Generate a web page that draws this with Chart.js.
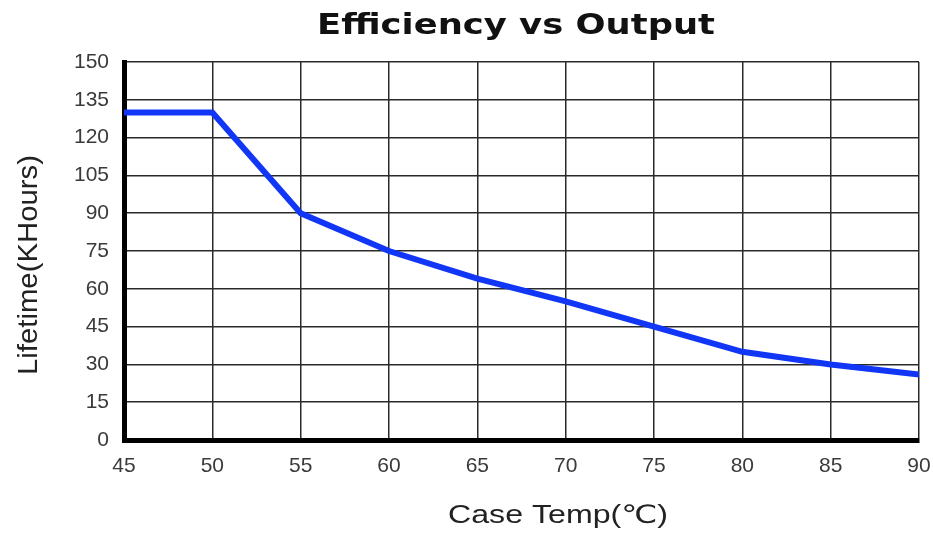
<!DOCTYPE html>
<html>
<head>
<meta charset="utf-8">
<script src="https://cdn.jsdelivr.net/npm/chart.js@4"></script>
<style>
  html, body { margin: 0; padding: 0; background: #fff; }
  #wrap { width: 933px; height: 535px; }
</style>
</head>
<body>
<div id="wrap"><canvas id="lifeChart" width="933" height="535"></canvas></div>
<script>
const caseTemps = [45, 50, 55, 60, 65, 70, 75, 80, 85, 90];
const lifetimeKHours = [130, 130, 90, 75, 64, 55, 45, 35, 30, 26];
const yTicks = [0, 15, 30, 45, 60, 75, 90, 105, 120, 135, 150];
const xTicks = [45, 50, 55, 60, 65, 70, 75, 80, 85, 90];

const chartTitle = "Efficiency vs Output";
const xTitle = "Case Temp(\u2103)";
const yTitle = "Lifetime(KHours)";

const lineColor = "#1236f5";
const gridColor = "#2a2a2a";
const tickColor = "#3a3a3a";

// draws text squeezed/stretched to a given width
function fitText(ctx, text, font, width) {
  ctx.font = font;
  const w = ctx.measureText(text).width;
  const sx = width / w;
  ctx.save();
  ctx.scale(sx, 1);
  ctx.fillText(text, -w / 2, 0);
  ctx.restore();
}

const titlesPlugin = {
  id: "titles",
  afterDraw(chart) {
    const ctx = chart.ctx;
    ctx.save();
    ctx.fillStyle = "#111";
    ctx.textBaseline = "alphabetic";
    ctx.textAlign = "left";

    ctx.save();
    ctx.translate(516, 34);
    fitText(ctx, chartTitle, "bold 29px 'DejaVu Sans', Arial, sans-serif", 398);
    ctx.restore();

    ctx.fillStyle = "#222";
    ctx.save();
    ctx.translate(558, 523);
    fitText(ctx, xTitle, "25px 'Liberation Sans', 'DejaVu Sans', Arial, sans-serif", 220);
    ctx.restore();

    ctx.save();
    ctx.translate(37, 265);
    ctx.rotate(-Math.PI / 2);
    fitText(ctx, yTitle, "28px 'Liberation Sans', Arial, sans-serif", 220);
    ctx.restore();

    ctx.restore();
  }
};

new Chart(document.getElementById("lifeChart"), {
  type: "line",
  data: {
    datasets: [
      {
        label: yTitle,
        data: caseTemps.map((t, i) => ({ x: t, y: lifetimeKHours[i] })),
        borderColor: lineColor,
        borderWidth: 6,
        pointRadius: 0,
        tension: 0,
        fill: false,
      },
    ],
  },
  options: {
    responsive: false,
    animation: false,
    layout: { padding: { top: 62, right: 14, left: 0, bottom: 0 } },
    plugins: {
      legend: { display: false },
      title: { display: false },
      tooltip: { enabled: false },
    },
    scales: {
      x: {
        type: "linear",
        min: 45,
        max: 90,
        afterFit: (s) => {
          s.height = 95;
          s.paddingLeft = 0;
          s.paddingRight = 0;
        },
        afterBuildTicks: (s) => { s.ticks = xTicks.map((v) => ({ value: v })); },
        grid: { color: gridColor, lineWidth: 1.5, drawTicks: false },
        border: { color: "#000", width: 5 },
        ticks: {
          color: tickColor,
          padding: 14,
          maxRotation: 0,
          font: { family: "'Liberation Sans', Arial, sans-serif", size: 21 },
        },
      },
      y: {
        min: 0,
        max: 150,
        afterFit: (s) => {
          s.width = 124;
          s.paddingTop = 0;
          s.paddingBottom = 0;
        },
        afterBuildTicks: (s) => { s.ticks = yTicks.map((v) => ({ value: v })); },
        grid: { color: gridColor, lineWidth: 1.5, drawTicks: false },
        border: { color: "#000", width: 5 },
        ticks: {
          color: tickColor,
          padding: 15,
          font: { family: "'Liberation Sans', Arial, sans-serif", size: 21 },
        },
      },
    },
  },
  plugins: [titlesPlugin],
});
</script>
</body>
</html>
